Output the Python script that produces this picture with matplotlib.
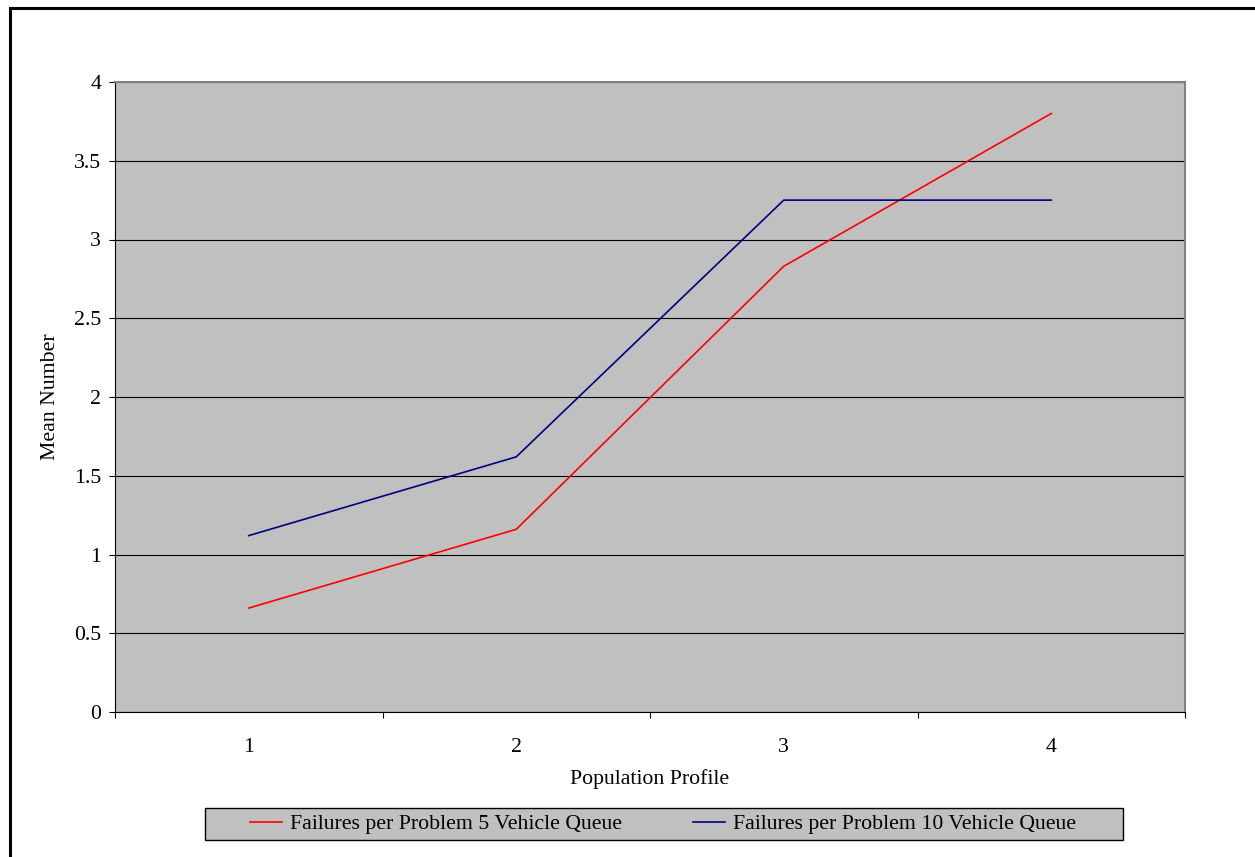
import matplotlib.pyplot as plt
from matplotlib.patches import Rectangle
import numpy as np

plt.rcParams['font.family'] = ['Liberation Serif', 'DejaVu Serif']

profiles = ["1", "2", "3", "4"]
queue5 = [0.66, 1.16, 2.83, 3.80]
queue10 = [1.12, 1.62, 3.25, 3.25]
yticks = [0, 0.5, 1, 1.5, 2, 2.5, 3, 3.5, 4]
ytick_labels = ["0", "0.5", "1", "1.5", "2", "2.5", "3", "3.5", "4"]

W, H = 1255, 857
FS = 15.7
fig = plt.figure(figsize=(W / 100, H / 100), dpi=100)
ax = fig.add_axes([115 / W, 1 - 712 / H, 1070 / W, 630 / H])
ax.set_facecolor("#c0c0c0")

x = np.arange(1, len(profiles) + 1)
l1, = ax.plot(x, queue5, color="#ff0000", lw=1.2, label="Failures per Problem 5 Vehicle Queue")
l2, = ax.plot(x, queue10, color="#000080", lw=1.2, label="Failures per Problem 10 Vehicle Queue")

ax.set_xlim(0.5, len(profiles) + 0.5)
ax.set_ylim(0, 4)
ax.set_yticks(yticks)
ax.set_yticklabels(ytick_labels)
ax.yaxis.grid(True, color="black", lw=0.8)
ax.set_axisbelow(True)

ax.set_xticks(np.arange(0.5, len(profiles) + 1, 1.0))
ax.set_xticklabels([])
ax.set_xticks(x, minor=True)
ax.set_xticklabels(profiles, minor=True)
ax.tick_params(axis="x", which="major", direction="out", length=4.5, width=0.8)
ax.tick_params(axis="x", which="minor", length=0, pad=18.5, labelsize=FS)
ax.tick_params(axis="y", direction="out", length=4, width=0.8, pad=6, labelsize=FS)

for s in ["top", "right"]:
    ax.spines[s].set_color("#808080")
    ax.spines[s].set_linewidth(1.5)
ax.spines["left"].set_linewidth(0.8)
ax.spines["bottom"].set_linewidth(0.8)

ax.set_xlabel("Population Profile", fontsize=FS, labelpad=9)
ax.set_ylabel("Mean Number", fontsize=FS, labelpad=10)

# legend box
fig.patches.append(Rectangle((205 / W, 1 - 840 / H), 918 / W, 32 / H,
                             transform=fig.transFigure, facecolor="#c0c0c0",
                             edgecolor="black", lw=1))
fig.legend(handles=[l1, l2], loc="center", bbox_to_anchor=(663 / W, 1 - 824 / H),
           ncol=2, frameon=False, fontsize=FS, handlelength=1.45,
           handletextpad=0.35, columnspacing=3.3)

# outer chart border
fig.patches.append(Rectangle((10 / W, -0.05), 1.1, 1 - 8 / H + 0.05,
                             transform=fig.transFigure, fill=False,
                             edgecolor="black", lw=2.2))

fig.savefig("out.png", dpi=100)
